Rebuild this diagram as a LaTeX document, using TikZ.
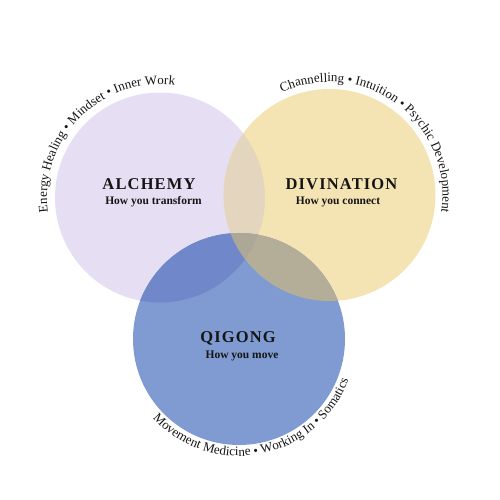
\documentclass[tikz,border=0pt]{standalone}
\usepackage{fontspec}
\setmainfont{Liberation Serif}
\usetikzlibrary{decorations.text}
\definecolor{alch}{HTML}{E6DFF4}
\definecolor{divc}{HTML}{F4E3B3}
\definecolor{qig}{HTML}{7F9BD1}
\definecolor{ovAD}{HTML}{E4D5BF}
\definecolor{ovAQ}{HTML}{7088CA}
\definecolor{ovDQ}{HTML}{B4AE98}
\definecolor{ovADQ}{HTML}{ACA797}
\definecolor{ink}{HTML}{151515}
\newcommand{\arcfont}{\fontsize{13}{15}\selectfont\color{ink}}
\tikzset{
  title/.style={font=\fontsize{16.5}{18}\selectfont\bfseries\addfontfeature{LetterSpace=7}, text=ink, inner sep=0pt},
  subtitle/.style={font=\fontsize{11.5}{13}\selectfont\bfseries, text=ink, inner sep=0pt},
}
\begin{document}
\begin{tikzpicture}[x=1pt,y=1pt]
\fill[white] (0,0) rectangle (500,500);
\useasboundingbox (0,0) rectangle (500,500);
\coordinate (A) at (160,302.5);
\coordinate (D) at (329.5,305);
\coordinate (Q) at (239,161);
\fill[alch] (A) circle[radius=105];
\fill[divc] (D) circle[radius=106];
\fill[qig] (Q) circle[radius=106];
\begin{scope}\clip (A) circle[radius=105]; \fill[ovAD] (D) circle[radius=106]; \end{scope}
\begin{scope}\clip (A) circle[radius=105]; \fill[ovAQ] (Q) circle[radius=106]; \end{scope}
\begin{scope}\clip (D) circle[radius=106]; \fill[ovDQ] (Q) circle[radius=106]; \end{scope}
\begin{scope}\clip (A) circle[radius=105]; \clip (D) circle[radius=106]; \fill[ovADQ] (Q) circle[radius=106]; \end{scope}

\node[title] (alchT) at (149,316) {ALCHEMY};
\node[subtitle] (alchS) at (153.5,298) {How you transform};
\node[title] (divT) at (341.5,316) {DIVINATION};
\node[subtitle] (divS) at (338,298) {How you connect};
\node[title] (qigT) at (238,162) {QIGONG};
\node[subtitle] (qigS) at (242,144) {How you move};

\path[decorate, decoration={text along path, text align=center,
  text={|\arcfont|Energy Healing • Mindset • Inner Work}}]
  (A) ++(225:113) arc[start angle=225, end angle=45, radius=113];
\path[decorate, decoration={text along path, text align=center,
  text={|\arcfont|Channelling • Intuition • Psychic Development}}]
  (D) ++(143:113) arc[start angle=143, end angle=-37, radius=113];
\path[decorate, decoration={text along path, text align=center,
  text={|\arcfont|Movement Medicine • Working In • Somatics}}]
  (Q) ++(191:117) arc[start angle=191, end angle=371, radius=117];
\end{tikzpicture}
\end{document}
